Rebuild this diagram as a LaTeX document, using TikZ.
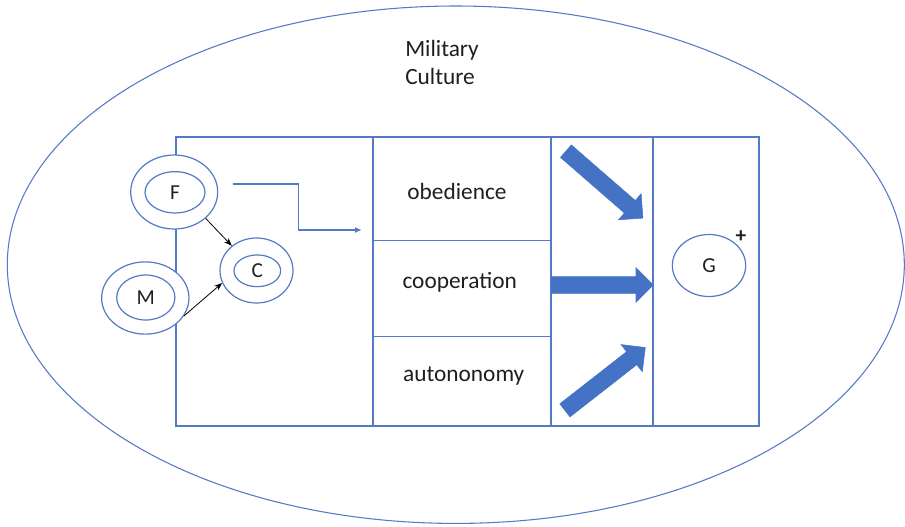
\documentclass[tikz,border=0pt]{standalone}
\usepackage{fontspec}
\setmainfont{Carlito}
\usetikzlibrary{shapes.geometric,shapes.arrows,arrows.meta}
\definecolor{officeblue}{RGB}{68,114,196}
\definecolor{lineblue}{RGB}{84,122,198}

\begin{document}
\begin{tikzpicture}[x=0.75pt,y=-0.75pt,
  outline/.style={draw=lineblue,line width=0.8pt},
  ring/.style={ellipse,draw=lineblue,line width=0.9pt,fill=white,inner sep=0pt},
  lbl/.style={font=\fontsize{17.5}{20}\selectfont,text=black!88,inner sep=0pt},
  letter/.style={font=\fontsize{16}{18}\selectfont,text=black!88},
  bigarrow/.style={single arrow,fill=officeblue,draw=officeblue,line width=0.4pt,
    inner xsep=0pt,inner ysep=6pt,minimum height=76.5pt,minimum width=25.5pt,
    single arrow head extend=6.75pt,anchor=tail},
  smallarrow/.style={-{Stealth[length=6pt,width=4.5pt]},line width=0.6pt,black},
  flowarrow/.style={draw=lineblue,line width=0.8pt,-{Latex[length=5pt,width=4.5pt]}}
]
\useasboundingbox (0,0) rectangle (905,526);

% surrounding culture
\draw[outline] (455.8,264.7) ellipse [x radius=448.5, y radius=258.7];
\node[lbl,anchor=base west] (mil) at (405,56) {Military};
\node[lbl,anchor=base west] (cul) at (405,84) {Culture};

% frame with the three behaviour rows and the goal column
\draw[outline] (176,137) rectangle (759,426);
\draw[outline] (373,137) -- (373,426);
\draw[outline] (551,137) -- (551,426);
\draw[outline] (653,137) -- (653,426);
\draw[outline] (373,240.7) -- (551,240.7);
\draw[outline] (373,336.7) -- (551,336.7);

\node[lbl,anchor=base] (obe) at (457,199.3) {obedience};
\node[lbl,anchor=base] (coo) at (459.7,288.3) {cooperation};
\node[lbl,anchor=base] (aut) at (463.7,381.7) {autononomy};

% block arrows towards the goal
\node[bigarrow,rotate=-41] (a1) at (565.7,151) {};
\node[bigarrow] (a2) at (551,285) {};
\node[bigarrow,rotate=38] (a3) at (564.7,410.5) {};

% goal
\node[ring,minimum width=55pt,minimum height=46.5pt,letter] (G) at (709,265.5) {G};
\node[font=\fontsize{16}{18}\selectfont\bfseries,text=black!88,inner sep=0pt] (plus) at (741,236.7) {+};

% F, M and C rings
\node[ring,minimum width=65.25pt,minimum height=55.5pt] (Fo) at (174.2,192) {};
\node[ring,minimum width=45pt,minimum height=31pt,letter] (Fi) at (175,192.3) {F};
\node[ring,minimum width=65.5pt,minimum height=54.2pt] (Mo) at (145.3,298) {};
\node[ring,minimum width=43.7pt,minimum height=33.75pt,letter] (Mi) at (145.8,297.5) {M};
\node[ring,minimum width=54.75pt,minimum height=48.75pt] (Co) at (256.5,270.5) {};
\node[ring,minimum width=35pt,minimum height=23.8pt,letter] (Ci) at (257.3,270.8) {C};

\draw[smallarrow] (Fo.-40) -- (Co.135);
\draw[smallarrow] (Mo.-25) -- (Co.200);

% bent flow arrow into the behaviour rows
\coordinate (bs) at (232.7,184);
\coordinate (be) at (361.7,230);
\draw[flowarrow] (bs) -- ++(65.6,0) |- (be);
\end{tikzpicture}
\end{document}
